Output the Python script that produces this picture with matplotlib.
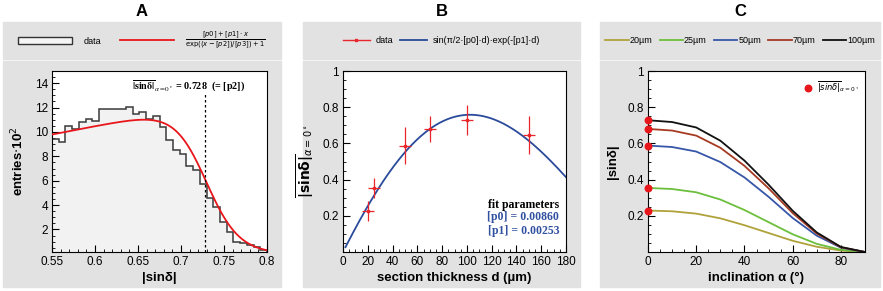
import numpy as np
import matplotlib.pyplot as plt
from matplotlib.patches import Rectangle, Patch
from matplotlib.lines import Line2D
from matplotlib.ticker import MultipleLocator, FixedLocator

plt.rcParams['font.family'] = ['Liberation Sans', 'DejaVu Sans']
plt.rcParams['xtick.direction'] = 'in'
plt.rcParams['ytick.direction'] = 'in'
plt.rcParams['xtick.major.size'] = 5
plt.rcParams['ytick.major.size'] = 5
plt.rcParams['xtick.minor.size'] = 2.5
plt.rcParams['ytick.minor.size'] = 2.5
plt.rcParams['xtick.labelsize'] = 8.5
plt.rcParams['ytick.labelsize'] = 8.5
plt.rcParams['axes.linewidth'] = 0.8

# ---- panel A: |sin delta| histogram (entries / 100) ----
hist_range = (0.55, 0.8)
hist_counts = [9.45, 9.2, 10.5, 10.25, 10.85, 11.05, 10.9, 11.85,
               11.85, 11.85, 11.9, 12.05, 11.45, 11.65, 11.1, 11.3,
               10.4, 9.3, 8.5, 8.2, 7.2, 6.9, 5.7, 4.6,
               3.85, 2.65, 1.8, 1.0, 0.85, 0.7, 0.55, 0.3]
# fit: ([p0]+[p1]*x) / (exp((x-[p2])/[p3])+1)
fitA = [2.2, 13.8, 0.728, 0.019]

# ---- panel B: mean |sin delta| at alpha=0 vs section thickness ----
thickness = [20, 25, 50, 70, 100, 150]
sin_mean = [0.228, 0.355, 0.588, 0.680, 0.730, 0.647]
sin_err = [0.055, 0.055, 0.100, 0.070, 0.082, 0.104]
thick_err = [5, 5, 5, 5, 5, 5]
fitB = [0.00860, 0.00253]

# ---- panel C: |sin delta| vs inclination ----
incl = [0, 10, 20, 30, 40, 50, 60, 70, 80, 90]
curves = {
    '20µm':  [0.229, 0.225, 0.212, 0.186, 0.148, 0.105, 0.062, 0.029, 0.008, 0.0],
    '25µm':  [0.354, 0.348, 0.330, 0.290, 0.232, 0.165, 0.098, 0.045, 0.012, 0.0],
    '50µm':  [0.588, 0.580, 0.555, 0.497, 0.412, 0.305, 0.188, 0.090, 0.024, 0.0],
    '70µm':  [0.680, 0.671, 0.643, 0.576, 0.476, 0.352, 0.215, 0.102, 0.026, 0.0],
    '100µm': [0.728, 0.718, 0.688, 0.615, 0.505, 0.372, 0.228, 0.108, 0.028, 0.0],
}
curve_colors = ['#b0a23a', '#6cbf3c', '#3656a8', '#a63a22', '#111111']

W, H = 883, 291
fig = plt.figure(figsize=(W / 100, H / 100), dpi=100)


def box(x0, y0, x1, y1):
    return [x0 / W, 1 - y1 / H, (x1 - x0) / W, (y1 - y0) / H]


gray = '#e2e2e2'
panels = [(3, 281, 'A'), (303, 580, 'B'), (600, 880, 'C')]
leg_axes = []
for x0, x1, name in panels:
    for y0, y1 in [(22, 59), (61, 287)]:
        fig.add_artist(Rectangle((x0 / W, 1 - y1 / H), (x1 - x0) / W, (y1 - y0) / H,
                                 transform=fig.transFigure, color=gray, zorder=0))
    fig.text((x0 + x1) / 2 / W, 1 - 11 / H, name, ha='center', va='center',
             fontsize=12, fontweight='bold')
    la = fig.add_axes(box(x0, 22, x1, 59))
    la.axis('off')
    leg_axes.append(la)

axA = fig.add_axes(box(52, 71, 267, 252))
axB = fig.add_axes(box(343, 71, 566, 252))
axC = fig.add_axes(box(648, 71, 865, 252))

# ---- A ----
edges = np.linspace(hist_range[0], hist_range[1], len(hist_counts) + 1)
axA.stairs(hist_counts, edges, fill=True, color='#f2f2f2', zorder=1)
axA.stairs(hist_counts, edges, color='#3a3a3a', lw=1.1, zorder=2)
xa = np.linspace(hist_range[0], hist_range[1], 300)
p0, p1, p2, p3 = fitA
axA.plot(xa, (p0 + p1 * xa) / (np.exp((xa - p2) / p3) + 1), color='#e8161b', lw=1.3, zorder=3)
axA.axvline(p2, ymax=0.885, color='black', ls=(0, (2, 2)), lw=0.9, zorder=4)
axA.text(0.9, 0.915, r'$\mathbf{\overline{|sin\delta|}}_{\alpha=0^\circ}$' + ' = 0.728  (= [p2])',
         transform=axA.transAxes, ha='right', va='center', fontsize=7.3,
         fontweight='bold', family='Liberation Serif', math_fontfamily='stix')
axA.set_xlim(*hist_range)
axA.set_ylim(0.15, 15)
axA.xaxis.set_major_locator(FixedLocator([0.55, 0.6, 0.65, 0.7, 0.75, 0.8]))
axA.set_xticklabels(['0.55', '0.6', '0.65', '0.7', '0.75', '0.8'])
axA.xaxis.set_minor_locator(MultipleLocator(0.01))
axA.yaxis.set_major_locator(FixedLocator([2, 4, 6, 8, 10, 12, 14]))
axA.yaxis.set_minor_locator(MultipleLocator(0.5))
axA.set_xlabel('|sinδ|', fontsize=9.5, fontweight='bold', labelpad=3)
axA.set_ylabel(r'entries$\cdot$10$^2$', fontsize=9.5, fontweight='bold', labelpad=6)

la = leg_axes[0]
hA = [Patch(facecolor='#f5f5f5', edgecolor='#333333', lw=1),
      Line2D([], [], color='#e8161b', lw=1.3)]
legA = la.legend(hA, ['data', r'$\frac{[p0]+[p1]\cdot x}{\exp((x-[p2])/[p3])+1}$'],
                 ncol=2, loc='center', bbox_to_anchor=(0.5, 0.5), frameon=False,
                 fontsize=6.5, handlelength=6.0, handleheight=0.8, handletextpad=1.3,
                 columnspacing=2.0)
legA.get_texts()[1].set_fontsize(7)

# ---- B ----
axB.errorbar(thickness, sin_mean, yerr=sin_err, xerr=thick_err, fmt='s', ms=2,
             color='#e8262b', ecolor='#e8262b', elinewidth=0.9, capsize=0, zorder=3)
xb = np.linspace(2, 180, 300)
q0, q1 = fitB
axB.plot(xb, np.sin(np.pi / 2 * q0 * xb) * np.exp(-q1 * xb), color='#2a4b9b', lw=1.3, zorder=2)
axB.set_xlim(0, 180)
axB.set_ylim(0, 1)
axB.xaxis.set_major_locator(MultipleLocator(20))
axB.xaxis.set_minor_locator(MultipleLocator(5))
axB.yaxis.set_major_locator(FixedLocator([0.2, 0.4, 0.6, 0.8, 1.0]))
axB.set_yticklabels(['0.2', '0.4', '0.6', '0.8', '1'])
axB.yaxis.set_minor_locator(MultipleLocator(0.05))
axB.set_xlabel('section thickness d (µm)', fontsize=9.5, fontweight='bold', labelpad=3)
axB.set_ylabel(r'$\mathbf{\overline{|sin\delta|}}_{\alpha=0^\circ}$', fontsize=10, labelpad=4)
tx = dict(transform=axB.transAxes, ha='right', va='center', fontsize=8.5,
          fontweight='bold', family='Liberation Serif')
axB.text(0.97, 0.26, 'fit parameters', color='black', **tx)
axB.text(0.97, 0.193, '[p0] = 0.00860', color='#3050a0', **tx)
axB.text(0.97, 0.116, '[p1] = 0.00253', color='#3050a0', **tx)

la = leg_axes[1]
hB = [Line2D([], [], color='#e8262b', lw=1, marker='s', ms=2),
      Line2D([], [], color='#2a4b9b', lw=1.3)]
la.legend(hB, ['data', 'sin(π/2·[p0]·d)·exp(-[p1]·d)'], ncol=2, loc='center',
          frameon=False, fontsize=6.5, handlelength=3.0, handletextpad=0.6,
          columnspacing=0.8)

# ---- C ----
lines_c = []
for (lab, vals), col in zip(curves.items(), curve_colors):
    ln, = axC.plot(incl, vals, color=col, lw=1.3, label=lab)
    lines_c.append(ln)
dots = axC.scatter([0] * len(sin_mean[:5]), sin_mean[:5], s=22, color='#e8161b',
                   zorder=5, clip_on=False,
                   label=r'$\overline{|sin\delta|}_{\alpha=0^\circ}$')
axC.legend(handles=[dots], loc='upper right', bbox_to_anchor=(1.0, 0.99),
           frameon=False, fontsize=6, handletextpad=0.1, borderaxespad=0.3)
axC.set_xlim(0, 90)
axC.set_ylim(0, 1)
axC.xaxis.set_major_locator(MultipleLocator(20))
axC.xaxis.set_minor_locator(MultipleLocator(5))
axC.yaxis.set_major_locator(FixedLocator([0.2, 0.4, 0.6, 0.8, 1.0]))
axC.set_yticklabels(['0.2', '0.4', '0.6', '0.8', '1'])
axC.yaxis.set_minor_locator(MultipleLocator(0.05))
axC.set_xlabel('inclination α (°)', fontsize=9.5, fontweight='bold', labelpad=3)
axC.set_ylabel('|sinδ|', fontsize=9.5, fontweight='bold', labelpad=6)

la = leg_axes[2]
la.legend(lines_c, list(curves.keys()), ncol=5, loc='center', frameon=False,
          fontsize=6.5, handlelength=2.6, handletextpad=0.1, columnspacing=0.8)

for ax in (axA, axB, axC):
    ax.tick_params(which='both', top=False, right=False, pad=3)

fig.savefig('out.png', dpi=100)
